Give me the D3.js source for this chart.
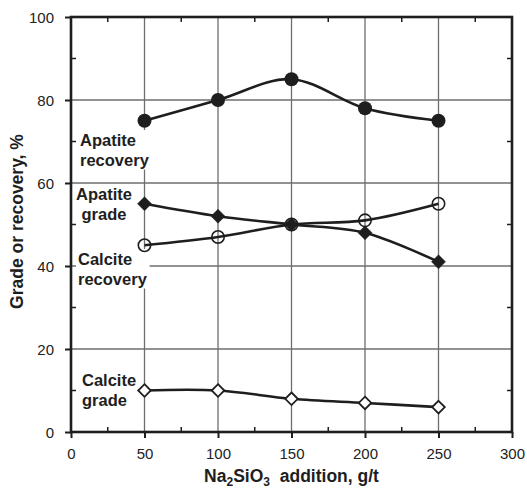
<!DOCTYPE html>
<html>
<head>
<meta charset="utf-8">
<script src="https://cdn.jsdelivr.net/npm/d3@7"></script>
<style>
  html, body { margin: 0; padding: 0; background: #fff; }
  svg { display: block; font-family: Arial, "Liberation Sans", sans-serif; }
</style>
</head>
<body>
<svg id="chart" width="527" height="490"></svg>
<script>
// Na2SiO3 dosage (g/t)
const dosage = [50, 100, 150, 200, 250];
// Grade / recovery values (%)
const apatiteRecovery = [75, 80, 85, 78, 75];
const apatiteGrade = [55, 52, 50, 48, 41];
const calciteRecovery = [45, 47, 50, 51, 55];
const calciteGrade = [10, 10, 8, 7, 6];

const xTicks = [0, 50, 100, 150, 200, 250, 300];
const yTicks = [0, 20, 40, 60, 80, 100];

const svg = d3.select("#chart");
const m = { left: 71, right: 512, top: 17, bottom: 432 };
const ink = "#1e1e1e";

const x = d3.scaleLinear().domain([0, 300]).range([m.left, m.right]);
const y = d3.scaleLinear().domain([0, 100]).range([m.bottom, m.top]);

// gridlines
const grid = svg.append("g").attr("stroke", "#6e6e6e").attr("stroke-width", 1.3);
grid.selectAll(".vg").data(xTicks.filter(d => d > 0 && d < 300)).join("line")
  .attr("x1", d => x(d)).attr("x2", d => x(d))
  .attr("y1", m.top).attr("y2", m.bottom);
grid.selectAll(".hg").data(yTicks.filter(d => d > 0 && d < 100)).join("line")
  .attr("y1", d => y(d)).attr("y2", d => y(d))
  .attr("x1", m.left).attr("x2", m.right);

// series
const series = [
  { name: "apatiteRecovery", values: apatiteRecovery, shape: "circle", fill: true },
  { name: "calciteRecovery", values: calciteRecovery, shape: "circle", fill: false },
  { name: "apatiteGrade", values: apatiteGrade, shape: "diamond", fill: true },
  { name: "calciteGrade", values: calciteGrade, shape: "diamond", fill: false }
];

const line = d3.line()
  .x(d => x(d[0])).y(d => y(d[1]))
  .curve(d3.curveCardinal.tension(0));

// text labels with white boxes where they sit over gridlines
const labels = [
  { lines: ["Apatite", "recovery"], x: 80, y: 146, anchor: "start", box: true },
  { lines: ["Apatite", "grade"], x: 104, y: 200, anchor: "middle", box: false },
  { lines: ["Calcite", "recovery"], x: 78, y: 265, anchor: "start", box: true },
  { lines: ["Calcite", "grade"], x: 82, y: 386, anchor: "start", box: false }
];
const labelG = svg.append("g");
labels.forEach(l => {
  const g = labelG.append("g");
  const t = g.append("text")
    .attr("font-size", 16.5).attr("font-weight", "bold").attr("fill", ink)
    .attr("text-anchor", l.anchor);
  l.lines.forEach((s, i) => {
    t.append("tspan").attr("x", l.x).attr("y", l.y + i * 19.5).text(s);
  });
  if (l.box) {
    const b = t.node().getBBox();
    g.insert("rect", "text")
      .attr("x", b.x - 2).attr("y", b.y - 1)
      .attr("width", b.width + 4).attr("height", b.height + 2)
      .attr("fill", "#fff");
  }
});

const plot = svg.append("g");
series.forEach(s => {
  const pts = dosage.map((d, i) => [d, s.values[i]]);
  plot.append("path").datum(pts)
    .attr("d", line)
    .attr("fill", "none").attr("stroke", ink).attr("stroke-width", 2.6);
});
series.forEach(s => {
  const pts = dosage.map((d, i) => [d, s.values[i]]);
  const mk = plot.append("g");
  if (s.shape === "circle") {
    mk.selectAll("circle").data(pts).join("circle")
      .attr("cx", d => x(d[0])).attr("cy", d => y(d[1]))
      .attr("r", s.fill ? 7 : 6.2)
      .attr("fill", s.fill ? ink : "none")
      .attr("stroke", ink).attr("stroke-width", s.fill ? 0 : 1.6);
  } else {
    const r = s.fill ? 7 : 6.3;
    mk.selectAll("path").data(pts).join("path")
      .attr("transform", d => `translate(${x(d[0])},${y(d[1])})`)
      .attr("d", `M0,${-r}L${r},0L0,${r}L${-r},0Z`)
      .attr("fill", s.fill ? ink : "#fff")
      .attr("stroke", ink).attr("stroke-width", s.fill ? 0.5 : 1.8);
  }
});

// axes
const xAxis = d3.axisBottom(x).tickValues(xTicks).tickSize(6).tickPadding(10);
const yAxis = d3.axisLeft(y).tickValues(yTicks).tickSize(6).tickPadding(11);

const gx = svg.append("g").attr("transform", `translate(0,${m.bottom})`).call(xAxis);
const gy = svg.append("g").attr("transform", `translate(${m.left},0)`).call(yAxis);
[gx, gy].forEach(g => {
  g.select(".domain").remove();
  g.selectAll(".tick line").attr("stroke", ink).attr("stroke-width", 2);
  g.selectAll(".tick text").attr("font-size", 15).attr("fill", "#222")
    .attr("font-family", "Arial, 'Liberation Sans', sans-serif");
});
gy.selectAll(".tick text").attr("dy", "0.36em");

// minor inward ticks
const xMinor = [25, 75, 125, 175, 225, 275];
const yMinor = [10, 30, 50, 70, 90];
const minor = svg.append("g").attr("stroke", ink).attr("stroke-width", 1.5);
minor.selectAll(".xb").data(xMinor).join("line")
  .attr("x1", d => x(d)).attr("x2", d => x(d))
  .attr("y1", m.bottom).attr("y2", m.bottom - 5);
minor.selectAll(".xt").data(xMinor).join("line")
  .attr("x1", d => x(d)).attr("x2", d => x(d))
  .attr("y1", m.top).attr("y2", m.top + 5);
minor.selectAll(".yl").data(yMinor).join("line")
  .attr("y1", d => y(d)).attr("y2", d => y(d))
  .attr("x1", m.left).attr("x2", m.left + 5);
minor.selectAll(".yr").data(yMinor).join("line")
  .attr("y1", d => y(d)).attr("y2", d => y(d))
  .attr("x1", m.right).attr("x2", m.right - 5);

// frame
svg.append("rect")
  .attr("x", m.left).attr("y", m.top)
  .attr("width", m.right - m.left).attr("height", m.bottom - m.top)
  .attr("fill", "none").attr("stroke", ink).attr("stroke-width", 2.6);

// axis titles
const xt = svg.append("text")
  .attr("x", (m.left + m.right) / 2).attr("y", 482)
  .attr("text-anchor", "middle").attr("font-size", 17.5).attr("font-weight", "bold").attr("fill", ink);
xt.append("tspan").text("Na");
xt.append("tspan").attr("font-size", 12).attr("dy", 3.5).text("2");
xt.append("tspan").attr("dy", -3.5).text("SiO");
xt.append("tspan").attr("font-size", 12).attr("dy", 3.5).text("3");
xt.append("tspan").attr("dy", -3.5).text("\u00a0 addition, g/t");

svg.append("text")
  .attr("transform", `translate(23,${(m.top + m.bottom) / 2 - 3}) rotate(-90)`)
  .attr("text-anchor", "middle").attr("font-size", 17.5).attr("font-weight", "bold").attr("fill", ink)
  .text("Grade or recovery, %");
</script>
</body>
</html>
